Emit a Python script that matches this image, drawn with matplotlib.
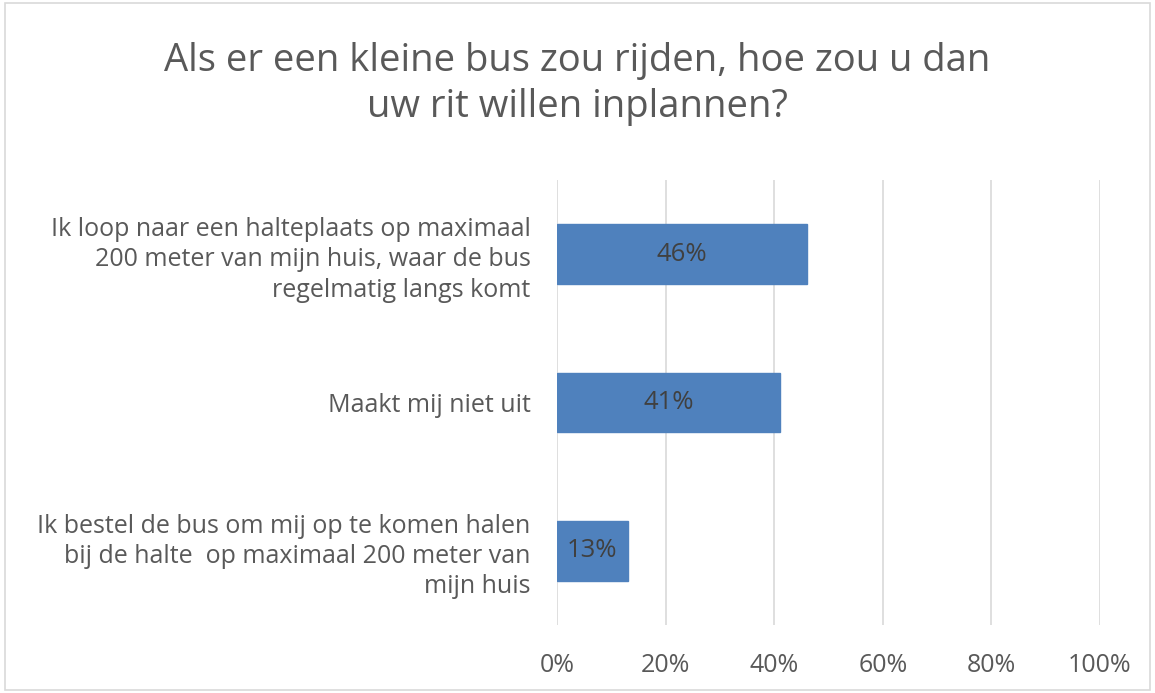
import matplotlib.pyplot as plt
import matplotlib.patches as mpatches
from matplotlib.ticker import FuncFormatter

categories = [
    'Ik loop naar een halteplaats op maximaal\n200 meter van mijn huis, waar de bus\nregelmatig langs komt',
    'Maakt mij niet uit',
    'Ik bestel de bus om mij op te komen halen\nbij de halte  op maximaal 200 meter van\nmijn huis',
]
values = [46, 41, 13]
ticks = [0, 20, 40, 60, 80, 100]

title = 'Als er een kleine bus zou rijden, hoe zou u dan\nuw rit willen inplannen?'

grey = '#595959'
plt.rcParams['font.family'] = ['Open Sans', 'DejaVu Sans']

fig = plt.figure(figsize=(11.55, 6.93), dpi=100)
ax = fig.add_axes([557 / 1155, 1 - 625 / 693, (1100 - 557) / 1155, (625 - 180) / 693])

pos = list(range(len(categories)))
ax.barh(pos, values, height=0.4, color='#4F81BD', edgecolor='#4F81BD', zorder=3)
for p, v in zip(pos, values):
    ax.text(v / 2, p, f'{v}%', ha='center', va='center', fontsize=18.5, color='#404040', zorder=4)

ax.set_ylim(len(categories) - 0.5, -0.5)
ax.set_xlim(0, 100)
ax.set_yticks(pos)
ax.set_yticklabels(categories, fontsize=18, color=grey, ha='right', multialignment='right', linespacing=1.28)
ax.set_xticks(ticks)
ax.xaxis.set_major_formatter(FuncFormatter(lambda x, _: f'{x:.0f}%'))
ax.tick_params(axis='x', labelsize=18, labelcolor=grey, length=0, pad=20)
ax.tick_params(axis='y', length=0, pad=19)
ax.grid(axis='x', color='#D9D9D9', linewidth=1.2, zorder=0)
for s in ax.spines.values():
    s.set_visible(False)

fig.text(0.5, 1 - 84 / 693, title, ha='center', va='center', fontsize=27.5, color=grey, linespacing=1.28)

fig.patches.append(mpatches.Rectangle((0.004, 0.004), 0.992, 0.992, transform=fig.transFigure,
                                      fill=False, edgecolor='#D9D9D9', linewidth=1.2))

fig.savefig('out.png', dpi=100)
